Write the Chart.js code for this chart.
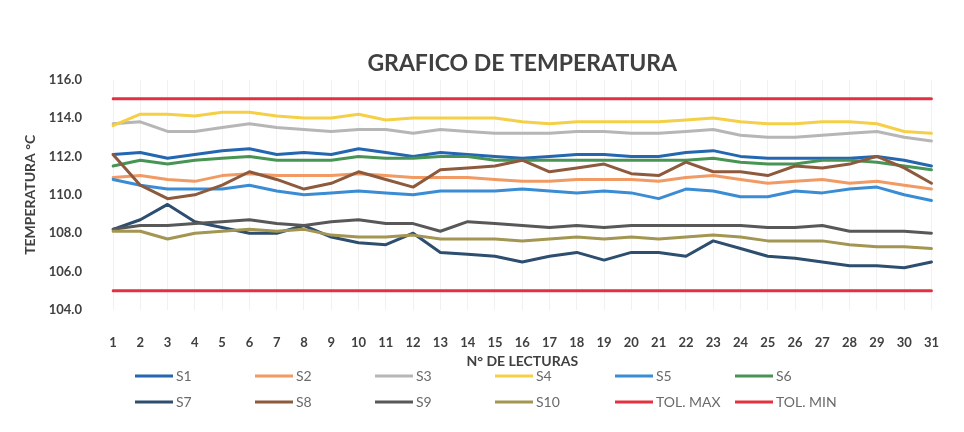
<!DOCTYPE html>
<html>
<head>
<meta charset="utf-8">
<title>Grafico de temperatura</title>
<script src="https://cdn.jsdelivr.net/npm/chart.js@4/dist/chart.umd.min.js"></script>
<style>
  body { margin: 0; background: #fff; }
  #wrap { width: 964px; height: 432px; }
</style>
</head>
<body>
<div id="wrap"><canvas id="temp-chart"></canvas></div>
<script>
var lecturas = ['1', '2', '3', '4', '5', '6', '7', '8', '9', '10', '11', '12', '13', '14', '15', '16',
    '17', '18', '19', '20', '21', '22', '23', '24', '25', '26', '27', '28', '29', '30', '31'];

var s1 = [112.1, 112.2, 111.9, 112.1, 112.3, 112.4, 112.1, 112.2, 112.1, 112.4, 112.2, 112.0, 112.2, 112.1, 112.0, 111.9,
    112.0, 112.1, 112.1, 112.0, 112.0, 112.2, 112.3, 112.0, 111.9, 111.9, 111.9, 111.9, 112.0, 111.8, 111.5];
var s2 = [110.9, 111.0, 110.8, 110.7, 111.0, 111.1, 111.0, 111.0, 111.0, 111.1, 111.0, 110.9, 110.9, 110.9, 110.8, 110.7,
    110.7, 110.8, 110.8, 110.8, 110.7, 110.9, 111.0, 110.8, 110.6, 110.7, 110.8, 110.6, 110.7, 110.5, 110.3];
var s3 = [113.7, 113.8, 113.3, 113.3, 113.5, 113.7, 113.5, 113.4, 113.3, 113.4, 113.4, 113.2, 113.4, 113.3, 113.2, 113.2,
    113.2, 113.3, 113.3, 113.2, 113.2, 113.3, 113.4, 113.1, 113.0, 113.0, 113.1, 113.2, 113.3, 113.0, 112.8];
var s4 = [113.6, 114.2, 114.2, 114.1, 114.3, 114.3, 114.1, 114.0, 114.0, 114.2, 113.9, 114.0, 114.0, 114.0, 114.0, 113.8,
    113.7, 113.8, 113.8, 113.8, 113.8, 113.9, 114.0, 113.8, 113.7, 113.7, 113.8, 113.8, 113.7, 113.3, 113.2];
var s5 = [110.8, 110.5, 110.3, 110.3, 110.3, 110.5, 110.2, 110.0, 110.1, 110.2, 110.1, 110.0, 110.2, 110.2, 110.2, 110.3,
    110.2, 110.1, 110.2, 110.1, 109.8, 110.3, 110.2, 109.9, 109.9, 110.2, 110.1, 110.3, 110.4, 110.0, 109.7];
var s6 = [111.5, 111.8, 111.6, 111.8, 111.9, 112.0, 111.8, 111.8, 111.8, 112.0, 111.9, 111.9, 112.0, 112.0, 111.8, 111.8,
    111.8, 111.8, 111.8, 111.8, 111.8, 111.8, 111.9, 111.7, 111.6, 111.6, 111.8, 111.8, 111.7, 111.5, 111.3];
var s7 = [108.2, 108.7, 109.5, 108.6, 108.3, 108.0, 108.0, 108.4, 107.8, 107.5, 107.4, 108.0, 107.0, 106.9, 106.8, 106.5,
    106.8, 107.0, 106.6, 107.0, 107.0, 106.8, 107.6, 107.2, 106.8, 106.7, 106.5, 106.3, 106.3, 106.2, 106.5];
var s8 = [112.1, 110.5, 109.8, 110.0, 110.5, 111.2, 110.8, 110.3, 110.6, 111.2, 110.8, 110.4, 111.3, 111.4, 111.5, 111.8,
    111.2, 111.4, 111.6, 111.1, 111.0, 111.7, 111.2, 111.2, 111.0, 111.5, 111.4, 111.6, 112.0, 111.4, 110.6];
var s9 = [108.2, 108.4, 108.4, 108.5, 108.6, 108.7, 108.5, 108.4, 108.6, 108.7, 108.5, 108.5, 108.1, 108.6, 108.5, 108.4,
    108.3, 108.4, 108.3, 108.4, 108.4, 108.4, 108.4, 108.4, 108.3, 108.3, 108.4, 108.1, 108.1, 108.1, 108.0];
var s10 = [108.1, 108.1, 107.7, 108.0, 108.1, 108.2, 108.1, 108.2, 107.9, 107.8, 107.8, 107.9, 107.7, 107.7, 107.7, 107.6,
    107.7, 107.8, 107.7, 107.8, 107.7, 107.8, 107.9, 107.8, 107.6, 107.6, 107.6, 107.4, 107.3, 107.3, 107.2];
var tolMax = [115, 115, 115, 115, 115, 115, 115, 115, 115, 115, 115, 115, 115, 115, 115, 115,
    115, 115, 115, 115, 115, 115, 115, 115, 115, 115, 115, 115, 115, 115, 115];
var tolMin = [105, 105, 105, 105, 105, 105, 105, 105, 105, 105, 105, 105, 105, 105, 105, 105,
    105, 105, 105, 105, 105, 105, 105, 105, 105, 105, 105, 105, 105, 105, 105];

var seriesNames = ['S1', 'S2', 'S3', 'S4', 'S5', 'S6', 'S7', 'S8', 'S9', 'S10', 'TOL. MAX', 'TOL. MIN'];
var seriesData = [s1, s2, s3, s4, s5, s6, s7, s8, s9, s10, tolMax, tolMin];
var seriesColors = ['#2467B0', '#F29A63', '#B6B6B6', '#F5CF45', '#3A8DD4', '#489455',
    '#2D4E6E', '#8E5A3E', '#585858', '#A39552', '#E2323F', '#E2323F'];

var textColor = '#404040';

// legend in a fixed grid of 6 columns x 2 rows under the axis title
var gridLegend = {
    id: 'gridLegend',
    afterDraw: function (chart) {
        var c = chart.ctx;
        c.save();
        c.font = '14px Lato';
        c.textBaseline = 'middle';
        chart.data.datasets.forEach(function (ds, i) {
            var x = 135 + (i % 6) * 120;
            var y = i < 6 ? 376 : 402;
            c.strokeStyle = ds.borderColor;
            c.lineWidth = 3;
            c.beginPath();
            c.moveTo(x, y);
            c.lineTo(x + 38, y);
            c.stroke();
            c.fillStyle = '#6a6a6a';
            c.fillText(ds.label, x + 41, y);
        });
        c.restore();
    }
};

var ctx = document.getElementById('temp-chart').getContext('2d');

var tempChart = new Chart(ctx, {
    type: 'line',
    data: {
        labels: lecturas,
        datasets: seriesNames.map(function (name, i) {
            return {
                label: name,
                data: seriesData[i],
                borderColor: seriesColors[i],
                backgroundColor: seriesColors[i],
                borderWidth: 3,
                pointRadius: 0,
                tension: 0,
                borderJoinStyle: 'round',
                borderCapStyle: 'round',
                order: seriesNames.length - i
            };
        })
    },
    options: {
        responsive: true,
        maintainAspectRatio: false,
        animation: false,
        layout: {
            padding: { left: 22, right: 31, top: 0, bottom: 62 }
        },
        plugins: {
            legend: { display: false },
            tooltip: { enabled: false },
            title: {
                display: true,
                fullSize: false,
                text: 'GRAFICO DE TEMPERATURA',
                color: textColor,
                font: { family: 'Lato', size: 23, weight: 'bold' },
                padding: { top: 50, bottom: 2 }
            }
        },
        scales: {
            x: {
                grid: { color: '#f1f1f1', drawTicks: false },
                border: { display: false },
                ticks: {
                    color: textColor,
                    padding: 25,
                    maxRotation: 0,
                    autoSkip: false,
                    font: { family: 'Lato', size: 13, weight: 'bold' }
                },
                title: {
                    display: true,
                    text: 'N° DE LECTURAS',
                    color: textColor,
                    font: { family: 'Lato', size: 14, weight: 'bold' },
                    padding: 0
                },
                afterFit: function (scale) { scale.height = 60; }
            },
            y: {
                min: 104,
                max: 116,
                grid: { display: false, drawTicks: false, tickLength: 0 },
                border: { display: false },
                ticks: {
                    stepSize: 2,
                    color: textColor,
                    padding: 31,
                    crossAlign: 'near',
                    font: { family: 'Lato', size: 13, weight: 'bold' },
                    callback: function (v) { return v.toFixed(1); }
                },
                title: {
                    display: true,
                    text: 'TEMPERATURA °C',
                    color: textColor,
                    font: { family: 'Lato', size: 14, weight: 'bold' },
                    padding: 0
                },
                afterFit: function (scale) { scale.width = 91; }
            }
        }
    },
    plugins: [gridLegend]
});
</script>
</body>
</html>
